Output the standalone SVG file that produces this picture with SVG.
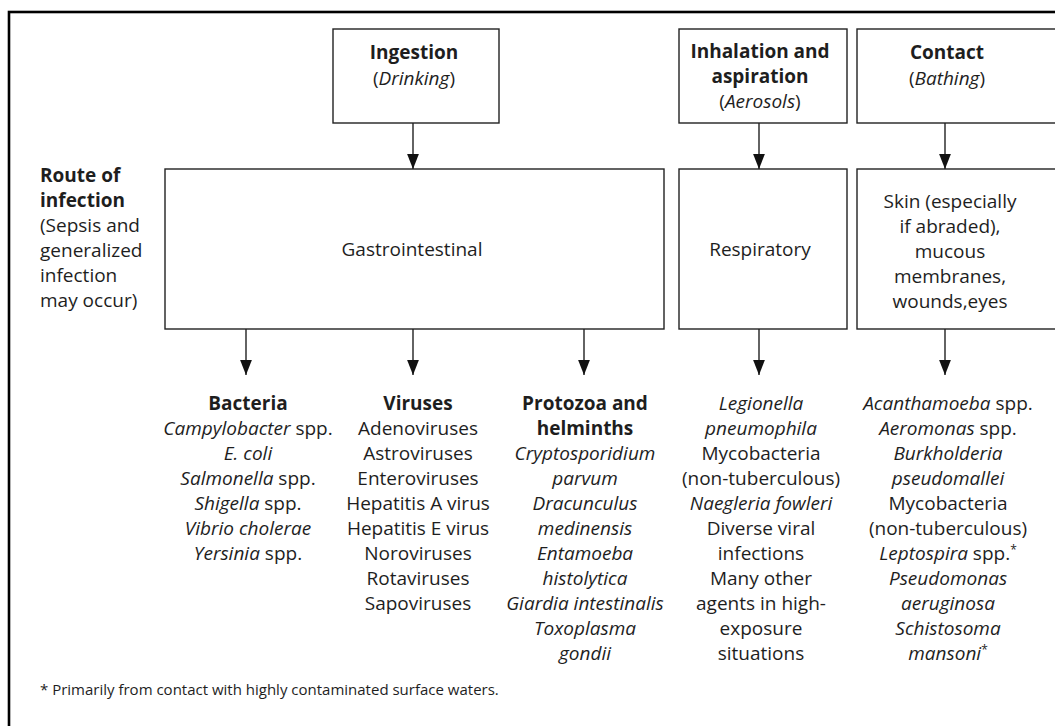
<svg xmlns="http://www.w3.org/2000/svg" width="1055" height="726" viewBox="0 0 1055 726">
  <style>
    text { font-family: "Open Sans", "Liberation Sans", sans-serif; font-size: 19px; fill: #1e1e1e; text-anchor: middle; }
    .b { font-weight: bold; }
    .i { font-style: italic; }
    .l { text-anchor: start; }
    .box { fill: #fff; stroke: #222; stroke-width: 1.4; }
    .conn { stroke: #222; stroke-width: 1.4; fill: none; }
    .note { font-size: 15px; }
    .sup { font-size: 12px; }
  </style>
  <defs>
    <marker id="ah" markerUnits="userSpaceOnUse" markerWidth="15" markerHeight="12" refX="14" refY="5.5" orient="auto" viewBox="0 0 14 11">
      <path d="M0,0 L14,5.5 L0,11 Z" fill="#111"/>
    </marker>
  </defs>
  <rect x="0" y="0" width="1055" height="726" fill="#fff"/>
  <rect id="frame" x="9" y="12" width="1120" height="800" fill="none" stroke="#000" stroke-width="2.6"/>

  <g id="ingestion">
    <rect class="box" x="333" y="29" width="166" height="94"/>
    <text x="414" y="59" class="b">Ingestion</text>
    <text x="414" y="85">(<tspan class="i">Drinking</tspan>)</text>
  </g>
  <g id="inhalation">
    <rect class="box" x="679" y="29" width="168" height="94"/>
    <text x="760" y="58" class="b">Inhalation and</text>
    <text x="760" y="83" class="b">aspiration</text>
    <text x="760" y="108">(<tspan class="i">Aerosols</tspan>)</text>
  </g>
  <g id="contact">
    <rect class="box" x="857" y="29" width="205" height="94"/>
    <text x="947" y="59" class="b">Contact</text>
    <text x="947" y="85">(<tspan class="i">Bathing</tspan>)</text>
  </g>

  <g id="route-label">
    <text x="40" y="182" class="b l">Route of</text>
    <text x="40" y="207" class="b l">infection</text>
    <text x="40" y="232" class="l">(Sepsis and</text>
    <text x="40" y="257" class="l">generalized</text>
    <text x="40" y="282" class="l">infection</text>
    <text x="40" y="307" class="l">may occur)</text>
  </g>

  <g id="gastrointestinal">
    <rect class="box" x="165" y="169" width="499" height="160"/>
    <text x="412" y="256">Gastrointestinal</text>
  </g>
  <g id="respiratory">
    <rect class="box" x="679" y="169" width="168" height="160"/>
    <text x="760" y="256">Respiratory</text>
  </g>
  <g id="skin">
    <rect class="box" x="857" y="169" width="205" height="160"/>
    <text x="950" y="208">Skin (especially</text>
    <text x="950" y="233">if abraded),</text>
    <text x="950" y="258">mucous</text>
    <text x="950" y="283">membranes,</text>
    <text x="950" y="308">wounds,eyes</text>
  </g>

  <g id="connectors">
    <line class="conn" x1="413" y1="123" x2="413" y2="169" marker-end="url(#ah)"/>
    <line class="conn" x1="759" y1="123" x2="759" y2="169" marker-end="url(#ah)"/>
    <line class="conn" x1="945" y1="123" x2="945" y2="169" marker-end="url(#ah)"/>
    <line class="conn" x1="246" y1="329" x2="246" y2="375" marker-end="url(#ah)"/>
    <line class="conn" x1="413" y1="329" x2="413" y2="375" marker-end="url(#ah)"/>
    <line class="conn" x1="584" y1="329" x2="584" y2="375" marker-end="url(#ah)"/>
    <line class="conn" x1="759" y1="329" x2="759" y2="375" marker-end="url(#ah)"/>
    <line class="conn" x1="945" y1="329" x2="945" y2="375" marker-end="url(#ah)"/>
  </g>

  <g id="bacteria">
    <text x="248" y="410" class="b">Bacteria</text>
    <text x="248" y="435"><tspan class="i">Campylobacter</tspan> spp.</text>
    <text x="248" y="460" class="i">E. coli</text>
    <text x="248" y="485"><tspan class="i">Salmonella</tspan> spp.</text>
    <text x="248" y="510"><tspan class="i">Shigella</tspan> spp.</text>
    <text x="248" y="535" class="i">Vibrio cholerae</text>
    <text x="248" y="560"><tspan class="i">Yersinia</tspan> spp.</text>
  </g>
  <g id="viruses">
    <text x="418" y="410" class="b">Viruses</text>
    <text x="418" y="435">Adenoviruses</text>
    <text x="418" y="460">Astroviruses</text>
    <text x="418" y="485">Enteroviruses</text>
    <text x="418" y="510">Hepatitis A virus</text>
    <text x="418" y="535">Hepatitis E virus</text>
    <text x="418" y="560">Noroviruses</text>
    <text x="418" y="585">Rotaviruses</text>
    <text x="418" y="610">Sapoviruses</text>
  </g>
  <g id="protozoa">
    <text x="585" y="410" class="b">Protozoa and</text>
    <text x="585" y="435" class="b">helminths</text>
    <text x="585" y="460" class="i">Cryptosporidium</text>
    <text x="585" y="485" class="i">parvum</text>
    <text x="585" y="510" class="i">Dracunculus</text>
    <text x="585" y="535" class="i">medinensis</text>
    <text x="585" y="560" class="i">Entamoeba</text>
    <text x="585" y="585" class="i">histolytica</text>
    <text x="585" y="610" class="i">Giardia intestinalis</text>
    <text x="585" y="635" class="i">Toxoplasma</text>
    <text x="585" y="660" class="i">gondii</text>
  </g>
  <g id="respiratory-agents">
    <text x="761" y="410" class="i">Legionella</text>
    <text x="761" y="435" class="i">pneumophila</text>
    <text x="761" y="460">Mycobacteria</text>
    <text x="761" y="485">(non-tuberculous)</text>
    <text x="761" y="510" class="i">Naegleria fowleri</text>
    <text x="761" y="535">Diverse viral</text>
    <text x="761" y="560">infections</text>
    <text x="761" y="585">Many other</text>
    <text x="761" y="610">agents in high-</text>
    <text x="761" y="635">exposure</text>
    <text x="761" y="660">situations</text>
  </g>
  <g id="contact-agents">
    <text x="948" y="410"><tspan class="i">Acanthamoeba</tspan> spp.</text>
    <text x="948" y="435"><tspan class="i">Aeromonas</tspan> spp.</text>
    <text x="948" y="460" class="i">Burkholderia</text>
    <text x="948" y="485" class="i">pseudomallei</text>
    <text x="948" y="510">Mycobacteria</text>
    <text x="948" y="535">(non-tuberculous)</text>
    <text x="948" y="560"><tspan class="i">Leptospira</tspan> spp.<tspan class="sup" dy="-6">*</tspan></text>
    <text x="948" y="585" class="i">Pseudomonas</text>
    <text x="948" y="610" class="i">aeruginosa</text>
    <text x="948" y="635" class="i">Schistosoma</text>
    <text x="948" y="660"><tspan class="i">mansoni</tspan><tspan class="sup" dy="-6">*</tspan></text>
  </g>

  <g id="footnote">
    <text x="40" y="695" class="l note">* Primarily from contact with highly contaminated surface waters.</text>
  </g>
</svg>
